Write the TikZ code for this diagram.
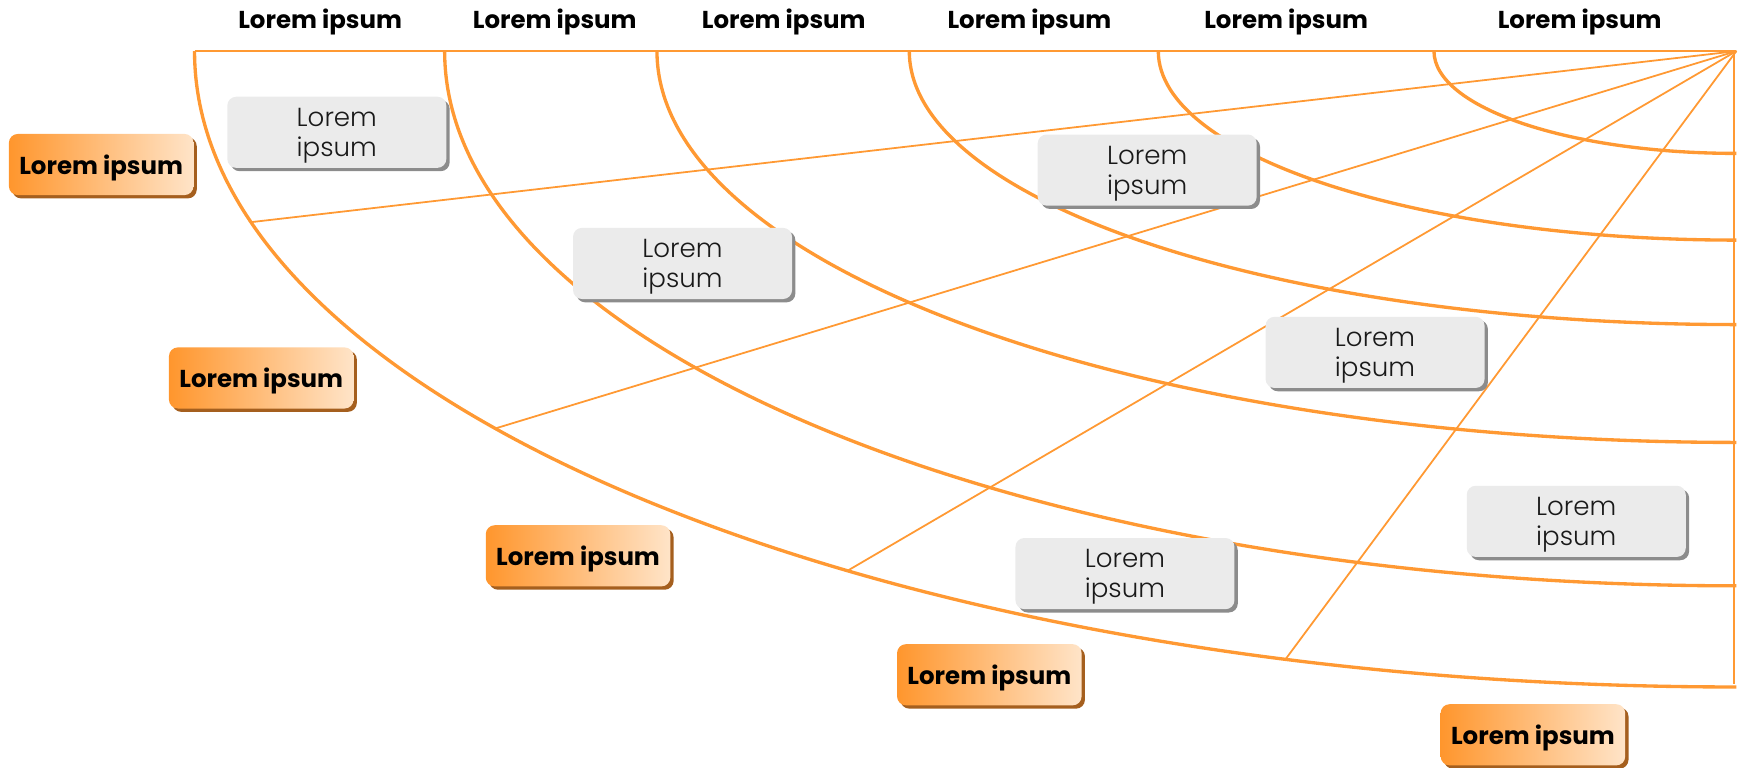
\documentclass[tikz,border=0pt]{standalone}
\usepackage{fontspec}
\setmainfont{Poppins}
\newfontfamily\lightfont{Poppins Light}
\usetikzlibrary{shadows}
\definecolor{web}{RGB}{255,153,51}
\definecolor{boxgray}{RGB}{235,235,235}
\definecolor{shadowgray}{RGB}{140,140,140}
\definecolor{boxorange}{RGB}{255,150,45}
\definecolor{boxpeach}{RGB}{255,228,200}
\definecolor{shadowbrown}{RGB}{165,95,30}
\begin{document}
\begin{tikzpicture}[x=1pt,y=1pt,
  arcline/.style={web, line width=3pt},
  spoke/.style={web, line width=1.6pt},
  frame/.style={web, line width=2pt},
  header/.style={font=\bfseries\fontsize{22}{24}\selectfont, text=black, text depth=0pt},
  graybox/.style={rounded corners=8pt, fill=boxgray, minimum width=197pt, minimum height=64pt,
    align=center, text=black!90, font=\lightfont\fontsize{23.5}{27}\selectfont, text depth=0pt,
    drop shadow={shadow xshift=3pt, shadow yshift=-3pt, fill=shadowgray, opacity=1}},
  orangebox/.style={rounded corners=8pt, left color=boxorange, right color=boxpeach,
    minimum width=166pt, minimum height=55pt, text=black, text depth=0pt,
    font=\bfseries\fontsize{22}{24}\selectfont,
    drop shadow={shadow xshift=3pt, shadow yshift=-3pt, fill=shadowbrown, opacity=1}}]
\useasboundingbox (0,0) rectangle (1568,-690);

% frame of the quarter web
\coordinate (apex) at (1562,-46);
\coordinate (topleft) at (175,-46);
\coordinate (rtop) at (1560,-46);
\coordinate (rbot) at (1560,-615);
\draw[frame] (topleft) -- (apex);
\draw[frame] (rtop) -- (rbot);

% concentric quarter ellipses around the apex
\foreach \rx/\ry [count=\i] in {1387/572, 1162/481, 971/352, 744/246, 520/170, 272/92} {
  \draw[arcline] ([xshift=-\rx pt]apex) coordinate (ring\i)
    arc[start angle=180, end angle=270, x radius=\rx, y radius=\ry];
}

% spokes from the apex to the outer ring
\foreach \t [count=\i] in {15.6, 36.4, 54.8, 73} {
  \coordinate (spokeend\i) at ([shift={(180+\t:1387 and 572)}]apex);
  \draw[spoke] (apex) -- (spokeend\i);
}

% column headers
\node[header] (h1) at (288,-17) {Lorem ipsum};
\node[header] (h2) at (499,-17) {Lorem ipsum};
\node[header] (h3) at (705,-17) {Lorem ipsum};
\node[header] (h4) at (926,-17) {Lorem ipsum};
\node[header] (h5) at (1157,-17) {Lorem ipsum};
\node[header] (h6) at (1421,-17) {Lorem ipsum};

% cells
\node[graybox] (g1) at (303,-119) {Lorem\\ipsum};
\node[graybox] (g2) at (614,-237) {Lorem\\ipsum};
\node[graybox] (g3) at (1032,-153) {Lorem\\ipsum};
\node[graybox] (g4) at (1237,-317) {Lorem\\ipsum};
\node[graybox] (g5) at (1418,-469) {Lorem\\ipsum};
\node[graybox] (g6) at (1012,-516) {Lorem\\ipsum};

% row labels
\node[orangebox] (o1) at (91,-148) {Lorem ipsum};
\node[orangebox] (o2) at (235,-340) {Lorem ipsum};
\node[orangebox] (o3) at (520,-500) {Lorem ipsum};
\node[orangebox] (o4) at (890,-607) {Lorem ipsum};
\node[orangebox] (o5) at (1379,-661) {Lorem ipsum};
\end{tikzpicture}
\end{document}
